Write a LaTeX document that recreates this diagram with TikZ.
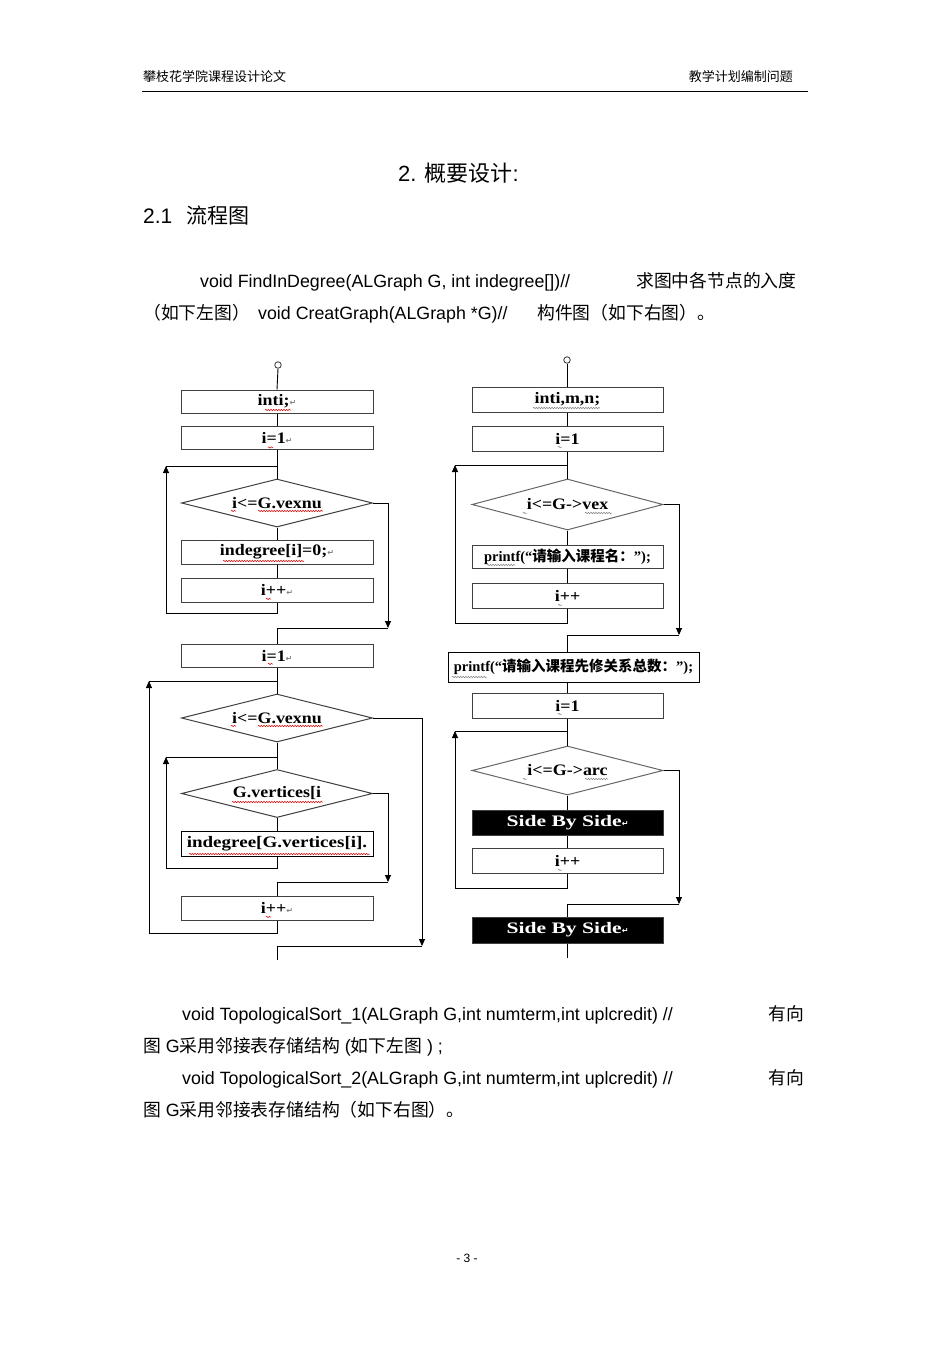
\documentclass[tikz,border=0pt]{standalone}
\usepackage{fontspec}
\setmainfont{Liberation Sans}
\newfontfamily\cjk{Noto Sans CJK SC}
\newfontfamily\fcserif{Liberation Serif}
\newfontfamily\symf{DejaVu Sans}
\usetikzlibrary{shapes.geometric,arrows.meta,decorations.pathmorphing}
\newcommand\zh[1]{{\cjk #1}}
\newcommand\ret{{\symf\fontsize{8}{8}\selectfont\color{gray}↵}}
\newcommand\wret{{\symf\fontsize{8}{8}\selectfont\color{white}↵}}
\newcommand\ft[2]{\scalebox{#1}[1]{#2}}
\tikzset{
  body/.style={inner sep=0pt, anchor=base west, font=\fontsize{17.8}{20}\selectfont},
  hdr/.style={inner sep=0pt, font=\fontsize{13}{14}\selectfont},
  fbox/.style={draw=black!75, line width=1pt, minimum width=192pt, minimum height=24pt, inner sep=0pt,
    font=\fcserif\bfseries\fontsize{16}{16}\selectfont},
  fdia/.style={draw=black!75, line width=1pt, diamond, shape aspect=4, inner sep=0pt,
    minimum width=191pt, minimum height=48pt, font=\fcserif\bfseries\fontsize{16}{16}\selectfont},
  blk/.style={fbox, fill=black, text=white, font=\fcserif\bfseries\fontsize{16}{16}\selectfont},
  startc/.style={circle, draw=black!80, line width=0.8pt, minimum size=6.5pt, inner sep=0pt},
  conn/.style={line width=0.9pt, black},
  arr/.style={conn, -{Triangle[length=7pt,width=6pt]}},
  wav/.style={draw=red!85!black, line width=0.5pt, decorate, decoration={snake, amplitude=0.7pt, segment length=2.6pt}},
  wavg/.style={wav, draw=gray}
}
\begin{document}
\begin{tikzpicture}[x=1pt,y=-1pt]
\useasboundingbox[fill=white] (0,0) rectangle (950,1345);

% ---------- header ----------
\node[hdr, anchor=base west] (h1) at (143,81) {\zh{攀枝花学院课程设计论文}};
\node[hdr, anchor=base east] (h2) at (793,81) {\zh{教学计划编制问题}};
\draw[line width=1pt] (142,91) -- (808,91);

% ---------- titles ----------
\node[body, font=\fontsize{22}{24}\selectfont] (t1) at (398,181) {2. \zh{概要设计}:};
\node[body, font=\fontsize{21}{24}\selectfont] (t2a) at (143,223) {2.1};
\node[body, font=\fontsize{21}{24}\selectfont] (t2b) at (186,223) {\zh{流程图}};

% ---------- paragraph 1 ----------
\node[body] (p1a) at (200,287) {void FindInDegree(ALGraph G, int indegree[])//};
\node[body] (p1b) at (636,287) {\zh{求图中各节点的入度}};
\node[body] (p2a) at (143,319) {\zh{（如下左图）}};
\node[body] (p2b) at (258,319) {void CreatGraph(ALGraph *G)//};
\node[body] (p2c) at (537,319) {\zh{构件图（如下右图）。}};

% ---------- left flowchart ----------
\node[startc] (c1) at (278,365) {};
\node[fbox, minimum height=23pt] (b1) at (277,401.5) {\ft{1.12}{inti;}\ret};
\node[fbox, minimum height=23pt] (b2) at (277,438) {\ft{1.12}{i=1}\ret};
\node[fdia] (d1) at (277,503) {\ft{1.12}{i<=G.vexnu}};
\node[fbox] (b3) at (277,552) {\ft{1.12}{indegree[i]=0;}\ret};
\node[fbox] (b4) at (277,590) {\ft{1.12}{i++}\ret};
\node[fbox, minimum height=23pt] (b5) at (277,655.5) {\ft{1.12}{i=1}\ret};
\node[fdia] (d2) at (277,718) {\ft{1.12}{i<=G.vexnu}};
\node[fdia] (d3) at (277,793.5) {\ft{1.12}{G.vertices[i}};
\node[fbox, draw=black, minimum height=25pt] (b6) at (277,843.5) {\ft{1.19}{indegree[G.vertices[i].}};
\node[fbox] (b7) at (277,908) {\ft{1.12}{i++}\ret};

\coordinate (j1) at (277,466);
\coordinate (l1) at (166,466);
\coordinate (r1) at (166,613);
\coordinate (e1) at (388,628);
\coordinate (j2) at (277,681);
\coordinate (l2) at (149,681);
\coordinate (r2) at (149,933);
\coordinate (j3) at (277,757);
\coordinate (l3) at (166,757);
\coordinate (r3) at (166,868);
\coordinate (e3) at (388,882);
\coordinate (e2) at (422,946);
\coordinate (end1) at (277,960);

\draw[conn] (c1.south) -- (b1.north);
\draw[conn] (b1.south) -- (b2.north);
\draw[conn] (b2.south) -- (d1.north);
\draw[conn] (d1.south) -- (b3.north);
\draw[conn] (b3.south) -- (b4.north);
\draw[arr] (b4.south) |- (r1) -- (l1);
\draw[conn] (l1) -- (j1);
\draw[arr] (d1.east) -| (e1);
\draw[conn] (e1) -| (b5.north);
\draw[conn] (b5.south) -- (d2.north);
\draw[conn] (d2.south) -- (d3.north);
\draw[conn] (d3.south) -- (b6.north);
\draw[arr] (b6.south) |- (r3) -- (l3);
\draw[conn] (l3) -- (j3);
\draw[arr] (d3.east) -| (e3);
\draw[conn] (e3) -| (b7.north);
\draw[arr] (b7.south) |- (r2) -- (l2);
\draw[conn] (l2) -- (j2);
\draw[arr] (d2.east) -| (e2);
\draw[conn] (e2) -| (end1);

% spell-check underlines (left)
\draw[wav] (265,410) -- (291,410);
\draw[wav] (268,447.5) -- (273,447.5);
\draw[wav] (231,511) -- (236,511);
\draw[wav] (258,511) -- (323,511);
\draw[wav] (223,561) -- (304,561);
\draw[wav] (266,599) -- (271,599);
\draw[wav] (268,664) -- (273,664);
\draw[wav] (231,726) -- (236,726);
\draw[wav] (258,726) -- (323,726);
\draw[wav] (232,802) -- (323,802);
\draw[wav] (189,854) -- (370,854);
\draw[wav] (266,917) -- (271,917);

% ---------- right flowchart ----------
\node[startc] (c2) at (567,360) {};
\node[fbox, minimum width=191pt, minimum height=25pt] (q1) at (567.5,399.5) {\ft{1.12}{inti,m,n;}};
\node[fbox, minimum width=191pt, minimum height=25pt] (q2) at (567.5,438.5) {\ft{1.12}{i=1}};
\node[fdia, draw=black!60, minimum height=51pt] (qd1) at (567.5,504.5) {\ft{1.12}{i<=G->vex}};
\node[fbox, minimum width=191pt, minimum height=23pt] (q3) at (567.5,556.5) {\ft{1}{\fontsize{14.5}{15}\selectfont printf(“\zh{请输入课程名：}”);}};
\node[fbox, minimum width=191pt, minimum height=25pt] (q4) at (567.5,595.5) {\ft{1.12}{i++}};
\node[fbox, draw=black, minimum width=251pt, minimum height=30pt] (q5) at (573.5,667) {\ft{1}{\fontsize{14.5}{15}\selectfont printf(“\zh{请输入课程先修关系总数：}”);}};
\node[fbox, minimum width=191pt, minimum height=25pt] (q6) at (567.5,705.5) {\ft{1.12}{i=1}};
\node[fdia, draw=black!60, minimum height=49pt] (qd2) at (567.5,770.5) {\ft{1.12}{i<=G->arc}};
\node[blk, minimum width=191pt, minimum height=25pt] (q7) at (567.5,822.5) {\ft{1.35}{Side By Side}\wret};
\node[fbox, minimum width=191pt, minimum height=25pt] (q8) at (567.5,860.5) {\ft{1.12}{i++}};
\node[blk, minimum width=191pt, minimum height=26pt] (q9) at (567.5,930) {\ft{1.35}{Side By Side}\wret};

\coordinate (k1) at (567,465);
\coordinate (m1) at (455,465);
\coordinate (n1) at (455,623);
\coordinate (f1) at (679,635);
\coordinate (k2) at (567,731);
\coordinate (m2) at (455,731);
\coordinate (n2) at (455,888);
\coordinate (f2) at (679,904);
\coordinate (end2) at (567,958);

\draw[conn] (c2.south) -- (c2 |- q1.north);
\draw[conn] (c2 |- q1.south) -- (c2 |- q2.north);
\draw[conn] (c2 |- q2.south) -- (c2 |- qd1.north);
\draw[conn] (c2 |- qd1.south) -- (c2 |- q3.north);
\draw[conn] (c2 |- q3.south) -- (c2 |- q4.north);
\draw[arr] (c2 |- q4.south) |- (n1) -- (m1);
\draw[conn] (m1) -- (k1);
\draw[arr] (qd1.east) -| (f1);
\draw[conn] (f1) -| (c2 |- q5.north);
\draw[conn] (c2 |- q5.south) -- (c2 |- q6.north);
\draw[conn] (c2 |- q6.south) -- (c2 |- qd2.north);
\draw[conn] (c2 |- qd2.south) -- (c2 |- q7.north);
\draw[conn] (c2 |- q7.south) -- (c2 |- q8.north);
\draw[arr] (c2 |- q8.south) |- (n2) -- (m2);
\draw[conn] (m2) -- (k2);
\draw[arr] (qd2.east) -| (f2);
\draw[conn] (f2) -| (c2 |- q9.north);
\draw[conn] (c2 |- q9.south) -- (end2);

% spell-check underlines (right)
\draw[wavg] (533,408) -- (600,408);
\draw[wavg] (558,447) -- (562,447);
\draw[wavg] (523,513) -- (527,513);
\draw[wavg] (585,513) -- (612,513);
\draw[wavg] (487,565) -- (515,565);
\draw[wavg] (558,605) -- (562,605);
\draw[wavg] (452,677) -- (487,677);
\draw[wavg] (558,714) -- (562,714);
\draw[wavg] (523,779) -- (527,779);
\draw[wavg] (585,779) -- (608,779);
\draw[wavg] (558,870) -- (562,870);

% ---------- paragraph 2 ----------
\node[body] (s1a) at (182,1020) {void TopologicalSort\_1(ALGraph G,int numterm,int uplcredit) //};
\node[body] (s1b) at (768,1020) {\zh{有向}};
\node[body] (s2) at (143,1052) {\zh{图} G\zh{采用邻接表存储结构} (\zh{如下左图} ) ;};
\node[body] (s3a) at (182,1084) {void TopologicalSort\_2(ALGraph G,int numterm,int uplcredit) //};
\node[body] (s3b) at (768,1084) {\zh{有向}};
\node[body] (s4) at (143,1116) {\zh{图} G\zh{采用邻接表存储结构（如下右图）。}};

% ---------- page number ----------
\node[font=\fontsize{12}{12}\selectfont, inner sep=0pt] (pg) at (467,1258) {- 3 -};
\end{tikzpicture}
\end{document}
